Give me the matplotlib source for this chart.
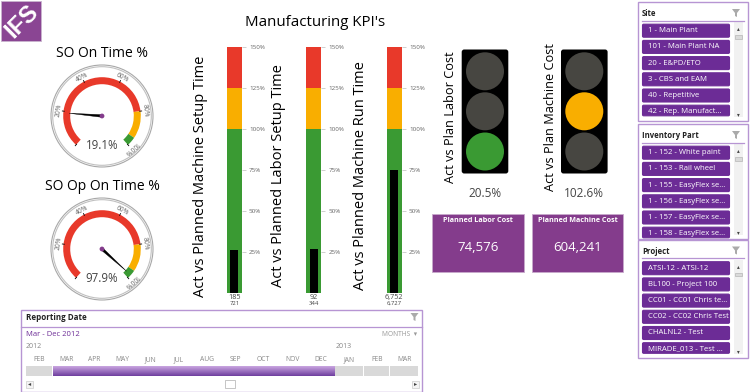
import numpy as np
import matplotlib
matplotlib.use('Agg')
import matplotlib.pyplot as plt
from matplotlib.colors import LinearSegmentedColormap
from matplotlib.patches import Wedge, Circle, Rectangle, FancyBboxPatch, Polygon

plt.rcParams['font.family'] = ['Open Sans', 'DejaVu Sans']

# data
gauge_titles = ["SO On Time %", "SO Op On Time %"]
gauge_values = [19.1, 97.9]
gauge_ticks = [20, 40, 60, 80, 100]
gauge_bands = [(0, 80, '#E8392A'), (80, 95, '#F9AE00'), (95, 100, '#3A9A33')]

bullet_titles = ["Act vs Planned Machine Setup Time", "Act vs Planned Labor Setup Time",
                 "Act vs Planned Machine Run Time"]
bullet_values = [26, 27, 75]
bullet_actual = ["185", "92", "6,752"]
bullet_plan = ["721", "344", "6,727"]
bullet_ticks = [25, 50, 75, 100, 125, 150]
bullet_bands = [(0, 100, '#3A9A33'), (100, 125, '#F9AE00'), (125, 150, '#E8392A')]

light_titles = ["Act vs Plan Labor Cost", "Act vs Plan Machine Cost"]
light_values = ["20.5%", "102.6%"]
light_on = [2, 1]
light_colors = ['#E8392A', '#F9AE00', '#3A9A33']

kpi_titles = ["Planned Labor Cost", "Planned Machine Cost"]
kpi_values = ["74,576", "604,241"]

site_items = ["1 - Main Plant", "101 - Main Plant NA", "20 - E&PD/ETO", "3 - CBS and EAM",
              "40 - Repetitive", "42 - Rep. Manufact..."]
part_items = ["1 - 152 - White paint", "1 - 153 - Rail wheel", "1 - 155 - EasyFlex se...",
              "1 - 156 - EasyFlex se...", "1 - 157 - EasyFlex se...", "1 - 158 - EasyFlex se..."]
project_items = ["ATSI-12 - ATSI-12", "BL100 - Project 100", "CC01 - CC01 Chris te...",
                 "CC02 - CC02 Chris Test", "CHALNL2 - Test", "MIRADE_013 - Test ..."]

months = ["FEB", "MAR", "APR", "MAY", "JUN", "JUL", "AUG", "SEP", "OCT", "NOV", "DEC", "JAN", "FEB", "MAR"]
month_selected = [0, 1, 1, 1, 1, 1, 1, 1, 1, 1, 1, 0, 0, 0]

W, H = 750, 392
PURPLE = '#843C8C'
ITEM = '#6C2C96'
FRAME = '#B795D3'

fig = plt.figure(figsize=(W / 100, H / 100), dpi=100, facecolor='white')


def sub_axes(x0, y0, x1, y1):
    # pixel box, y measured from the top of the image
    return fig.add_axes([x0 / W, 1 - y1 / H, (x1 - x0) / W, (y1 - y0) / H])


# main layer in image pixels
ax = fig.add_axes([0, 0, 1, 1])
ax.set_xlim(0, W)
ax.set_ylim(H, 0)
ax.axis('off')

# logo
ax.add_patch(Rectangle((1, 1), 40, 40, fc='#8A4593', ec='#C9B5CF', lw=0.6))
ax.text(21.5, 21.5, "IFS", color='white', fontsize=17, fontweight='bold', rotation=45,
        ha='center', va='center', family='Liberation Sans')

ax.text(315, 22, "Manufacturing KPI's", fontsize=10.8, ha='center', va='center', color='black')


# gauges
def val_angle(v):
    return 228 - v * 2.76


gauge_cy = [116, 249]
gauge_ty = [53, 186]
for title, value, cy, ty in zip(gauge_titles, gauge_values, gauge_cy, gauge_ty):
    ax.text(102, ty, title, fontsize=10, ha='center', va='center', color='black')
    g = sub_axes(102 - 55, cy - 55, 102 + 55, cy + 55)
    g.set_xlim(-55, 55)
    g.set_ylim(-55, 55)
    g.axis('off')
    g.add_patch(Circle((0, 0), 51, fc='white', ec='#A8A8A8', lw=0.8))
    g.add_patch(Circle((0, 0), 49.3, fc='white', ec='#C0C0C0', lw=0.8))
    for lo, hi, col in gauge_bands:
        g.add_patch(Wedge((0, 0), 38.8, val_angle(hi), val_angle(lo), width=7, fc=col, ec='none'))
    for t in [0] + gauge_ticks:
        a = np.radians(val_angle(t))
        g.plot([38 * np.cos(a), 40 * np.cos(a)], [38 * np.sin(a), 40 * np.sin(a)], color='black', lw=0.6)
    for t in gauge_ticks:
        deg = val_angle(t)
        a = np.radians(deg)
        g.text(43.5 * np.cos(a), 43.5 * np.sin(a), "%d%%" % t, fontsize=4.8, color='#666666',
               rotation=deg - 90, ha='center', va='center', rotation_mode='anchor')
    a = np.radians(val_angle(value))
    nx, ny = -np.sin(a), np.cos(a)
    g.add_patch(Polygon([(33 * np.cos(a), 33 * np.sin(a)), (1.3 * nx, 1.3 * ny), (-1.3 * nx, -1.3 * ny)],
                        fc='black', ec='black', lw=0.3))
    g.add_patch(Circle((0, 0), 2.4, fc=PURPLE, ec='none', zorder=5))
    g.text(0, -29.5, "%.1f%%" % value, fontsize=8.3, color='#444444', ha='center', va='center')

# bullets
bullet_x = [226.7, 306, 386.7]
label_x = [201, 279, 361]
label_y = [176, 176, 175.5]
for i in range(3):
    x0 = bullet_x[i]
    b = sub_axes(x0, 47, x0 + 15.3, 293)
    b.set_xlim(0, 1)
    b.set_ylim(0, 150)
    for lo, hi, col in bullet_bands:
        b.bar(0.5, hi - lo, bottom=lo, width=1, color=col, linewidth=0)
    b.bar(0.5, bullet_values[i], width=0.52, color='black', linewidth=0)
    b.set_xticks([])
    b.set_yticks(bullet_ticks)
    b.set_yticklabels(["%d%%" % t for t in bullet_ticks], fontsize=4.5, color='#666666')
    b.yaxis.tick_right()
    b.tick_params(axis='y', length=3, width=0.5, color='#BBBBBB', pad=2)
    for s in b.spines.values():
        s.set_visible(False)
    ax.text(label_x[i], label_y[i], bullet_titles[i], rotation=90, fontsize=10.5, ha='center', va='center')
    ax.text(x0 + 7.6, 297.5, bullet_actual[i], fontsize=5.2, color='#444444', ha='center', va='center')
    ax.text(x0 + 7.6, 303.5, bullet_plan[i], fontsize=4.2, color='#444444', ha='center', va='center')

# traffic lights
light_x = [485, 584.3]
light_text_x = [450.7, 550]
light_text_y = [117.5, 117]
for i in range(2):
    cx = light_x[i]
    ax.add_patch(FancyBboxPatch((cx - 23.3, 49.5), 46.6, 124, boxstyle='round,pad=0,rounding_size=2.5',
                                fc='black', ec='none'))
    for k, cy in enumerate([71.3, 111.3, 151.5]):
        col = light_colors[k] if light_on[i] == k else '#474641'
        ax.add_patch(Circle((cx, cy), 19, fc=col, ec='none'))
    ax.text(light_text_x[i], light_text_y[i], light_titles[i], rotation=90, fontsize=9.2, ha='center', va='center')
    ax.text(cx, 193, light_values[i], fontsize=8.5, color='#444444', ha='center', va='center')

# kpi boxes
kpi_x = [432.3, 531.7]
for i in range(2):
    ax.add_patch(Rectangle((kpi_x[i], 214.3), 91.7, 57.4, fc=PURPLE, ec='#C7A9CC', lw=0.6))
    ax.text(kpi_x[i] + 46, 220, kpi_titles[i], fontsize=5.25, color='white', fontweight='bold',
            ha='center', va='center')
    ax.text(kpi_x[i] + 46, 247, kpi_values[i], fontsize=9.5, color='white', ha='center', va='center')


# slicers
def funnel(x, y):
    ax.add_patch(Polygon([(x - 4, y - 4), (x + 4, y - 4), (x + 1, y), (x + 1, y + 4), (x - 1, y + 3), (x - 1, y)],
                         fc='#AAAAAA', ec='none'))


def slicer(top, bottom, title, items):
    ax.add_patch(Rectangle((637.7, top), 110, bottom - top, fc='white', ec=FRAME, lw=1))
    ax.text(642, top + 11.5, title, fontsize=5.6, fontweight='bold', color='#222222', ha='left', va='center')
    ax.plot([642, 744], [top + 18.5, top + 18.5], color=FRAME, lw=0.9)
    funnel(736, top + 11)
    ax.add_patch(Rectangle((733.7, top + 20), 9.3, bottom - top - 24, fc='#F1F1F1', ec='none'))
    ax.add_patch(Rectangle((734.5, top + 33), 7.6, 3.5, fc='#DADADA', ec='#AAAAAA', lw=0.4))
    ax.text(738.3, top + 27, "\u25b4", fontsize=4, color='#444444', ha='center', va='center')
    ax.text(738.3, bottom - 6.5, "\u25be", fontsize=4, color='#444444', ha='center', va='center')
    for j, name in enumerate(items):
        y = top + 21.7 + j * 16.2
        h = 14 if j < len(items) - 1 else 11.6
        ax.add_patch(FancyBboxPatch((642.5, y + 0.5), 87, h - 1, boxstyle='round,pad=0,rounding_size=1.2',
                                    fc=ITEM, ec=ITEM, lw=0.8))
        ax.text(648, y + 7, name, fontsize=5.6, color='white', ha='left', va='center', clip_on=True)


slicer(2, 121, "Site", site_items)
slicer(124, 238.7, "Inventory Part", part_items)
slicer(239.5, 357.7, "Project", project_items)

# timeline
ax.add_patch(Rectangle((21, 310), 401.3, 81.5, fc='white', ec=FRAME, lw=1))
ax.text(25.7, 318, "Reporting Date", fontsize=5.8, fontweight='bold', color='#222222', ha='left', va='center')
ax.plot([21, 422], [326.7, 326.7], color=FRAME, lw=0.9)
funnel(414.5, 317)
ax.text(25.7, 334, "Mar - Dec 2012", fontsize=5.5, color='#6C2C96', ha='left', va='center')
ax.text(417, 334, "MONTHS  \u25be", fontsize=4.8, color='#999999', ha='right', va='center')
ax.text(25.7, 347, "2012", fontsize=5, color='#888888', ha='left', va='center')
ax.text(335.5, 347, "2013", fontsize=5, color='#888888', ha='left', va='center')

month_edges = [25.7, 52.5, 80.5, 108.3, 136.3, 164, 193.3, 221, 249, 278.3, 306, 335, 364, 390, 419]
strip = sub_axes(25.7, 366, 419, 375.7)
shade = np.linspace(0, 1, 32).reshape(-1, 1)
month_cmap = LinearSegmentedColormap.from_list('m', ['#6F3F9F', '#C9A5E0'])
for i, sel in enumerate(month_selected):
    left, right = month_edges[i], month_edges[i + 1]
    if sel:
        strip.imshow(shade, extent=(left, right - 0.4, 0, 1), aspect='auto', origin='lower', cmap=month_cmap)
    else:
        strip.barh(0.5, right - left - 0.8, left=left, height=1, color='#D9D9D9', linewidth=0)
strip.set_xlim(25.7, 419)
strip.set_ylim(0, 1)
strip.axis('off')
for i, name in enumerate(months):
    ax.text((month_edges[i] + month_edges[i + 1]) / 2, 361, name, fontsize=4.9, color='#888888',
            ha='center', va='baseline')

ax.add_patch(Rectangle((26, 380.5), 6.5, 7, fc='#F4F4F4', ec='#CCCCCC', lw=0.5))
ax.add_patch(Rectangle((412, 380.5), 6.5, 7, fc='#F4F4F4', ec='#CCCCCC', lw=0.5))
ax.add_patch(Rectangle((224.5, 379.5), 10, 8.5, fc='white', ec='#BBBBBB', lw=0.6))
ax.text(29.2, 384, "\u25c2", fontsize=4.5, color='#444444', ha='center', va='center')
ax.text(415.2, 384, "\u25b8", fontsize=4.5, color='#444444', ha='center', va='center')

fig.savefig('out.png', dpi=100, facecolor='white')
